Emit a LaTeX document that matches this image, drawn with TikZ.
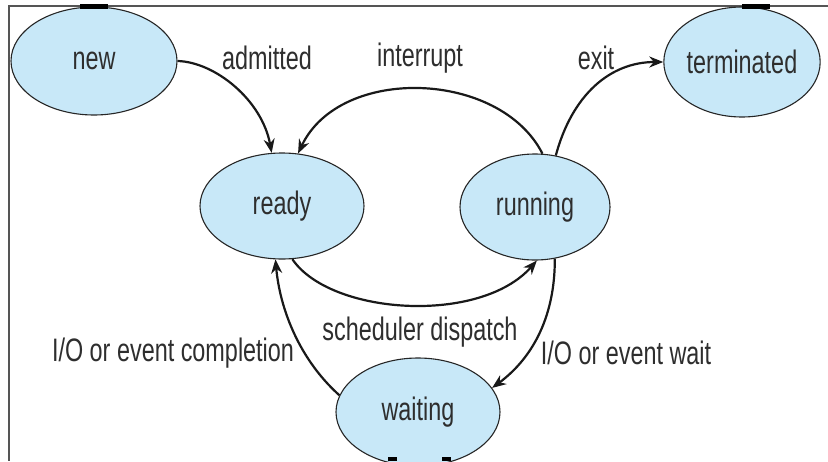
\documentclass[tikz,border=0pt]{standalone}
\usepackage{fontspec}
\setmainfont[FakeStretch=0.72]{Liberation Sans}
\usetikzlibrary{shapes.geometric,arrows.meta}
\definecolor{statefill}{HTML}{C8E8F8}
\definecolor{txt}{HTML}{2E2E2E}
\definecolor{framecol}{HTML}{555555}
\tikzset{
  state/.style={ellipse, draw=black!85, line width=1.1pt, fill=statefill, inner sep=0pt,
    text=txt, font=\fontsize{32.5}{32.5}\selectfont},
  lbl/.style={text=txt, font=\fontsize{32.5}{32.5}\selectfont, inner sep=0pt},
  trans/.style={line width=2.2pt, draw=black!90, -{Stealth[length=14pt,width=11pt]}},
  tab/.style={fill=black, draw=none}
}
\begin{document}
\begin{tikzpicture}[x=1pt,y=-1pt]
\useasboundingbox (0,0) rectangle (828,461);
\fill[white] (0,0) rectangle (828,461);
% frame
\draw[framecol, line width=1.6pt] (828,6) -- (9,6) -- (9,461);
% states
\node[state, minimum width=166pt, minimum height=108pt] (new) at (94,61) {new};
\node[state, minimum width=140pt, minimum height=110pt] (term) at (742,62) {terminated};
\node[state, minimum width=164pt, minimum height=106pt] (ready) at (282,206) {ready};
\node[state, minimum width=150pt, minimum height=106pt] (run) at (535,207) {running};
\node[state, minimum width=164pt, minimum height=108pt] (wait) at (418,412) {waiting};
% small tabs at the cut edges
\fill[tab] (80,4) rectangle (108,9);
\fill[tab] (742,4) rectangle (770,9);
\fill[tab] (388,457) rectangle (397,461);
\fill[tab] (442,457) rectangle (451,461);
% transitions
\draw[trans] (new.east) .. controls (215,62) and (262,100) .. (ready.101);
\draw[trans] (run.82) .. controls (500,70) and (340,65) .. (ready.73);
\draw[trans] (run.68) .. controls (572,95) and (610,62) .. (term.west);
\draw[trans] (ready.-79) .. controls (330,315) and (480,325) .. (run.-88);
\draw[trans] (run.-69) .. controls (555,320) and (530,360) .. (wait.18);
\draw[trans] (wait.168) .. controls (300,360) and (280,310) .. (ready.-97);
% labels
\node[lbl] (ladm) at (267,58) {admitted};
\node[lbl] (lint) at (420,58) {interrupt};
\node[lbl] (lexit) at (596,58) {exit};
\node[lbl] (lsch) at (420,332) {scheduler dispatch};
\node[lbl] (lcomp) at (173,353) {I/O or event completion};
\node[lbl] (lwait) at (626,353) {I/O or event wait};
\end{tikzpicture}
\end{document}
